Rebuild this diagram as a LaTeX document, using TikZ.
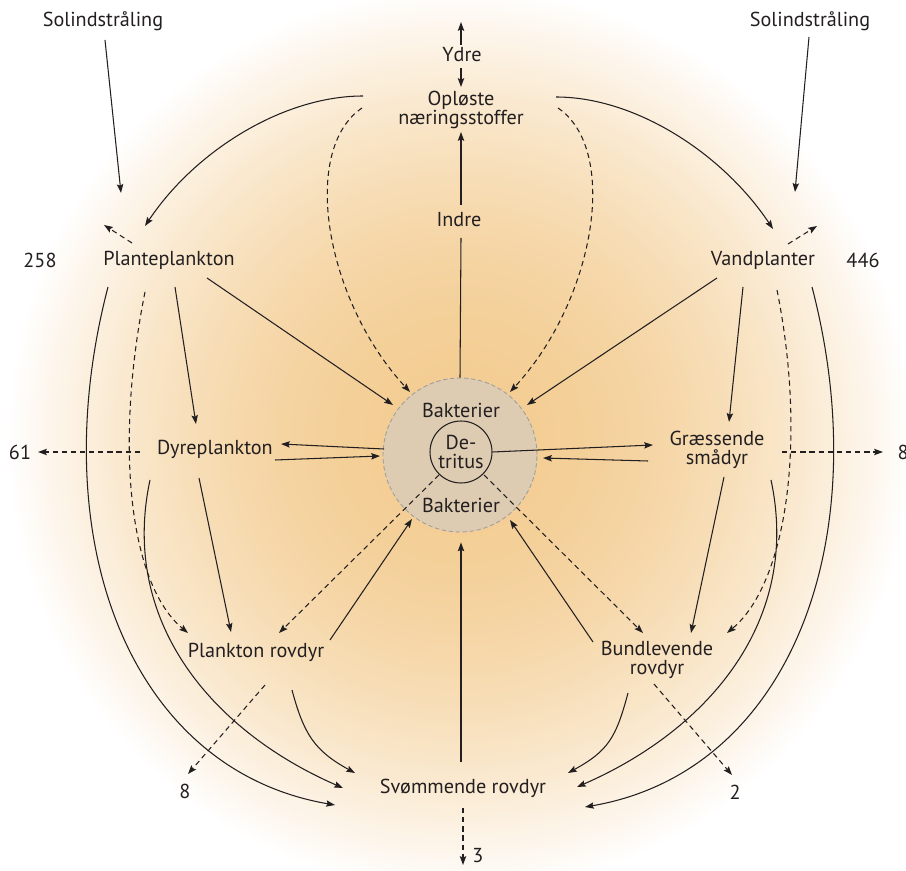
\documentclass[tikz,border=0pt]{standalone}
\usepackage{fontspec}
\setmainfont{PT Sans}
\usetikzlibrary{arrows.meta, calc, shapes}
\definecolor{glowc}{RGB}{243,204,145}
\definecolor{bakfill}{RGB}{221,204,178}
\definecolor{ink}{RGB}{35,31,32}
\tikzset{>={Stealth[length=5pt,width=3.6pt,inset=0.8pt]}}

\begin{document}
\begin{tikzpicture}[x=0.02cm, y=-0.02cm, line width=0.6pt, draw=ink,
	lbl/.style={text=ink, font=\fontsize{11.5}{10.8}\selectfont, align=center, inner sep=1pt},
	flow/.style={->},
	loss/.style={->, dash pattern=on 3pt off 2.2pt}]
			\useasboundingbox (0,0) rectangle (906,871);
			% baggrund
			\foreach \r [evaluate=\r as \f using {100*(1-(\r/455)^2)}] in {455,450,...,5}
				\fill [glowc!\f!white] (460,440) circle (\r);

			\node [circle, draw=gray!75, dash pattern=on 2.5pt off 1.5pt, line width=0.5pt, fill=bakfill, minimum size=3.08cm, inner sep=0] (bak) at (460,455) {};
			\node [lbl, circle, draw=ink, minimum size=1.24cm, inner sep=0] (det) at (461,452) {De-\\tritus};
			\node [lbl] (bakop) at (461,410) {Bakterier};
			\node [lbl] (bakned) at (461,505) {Bakterier};

			\node [lbl] (solV) at (103,21) {Solindstråling};
			\node [lbl] (solH) at (810,21) {Solindstråling};
			\node [lbl] (ydre) at (462,55) {Ydre};
			\node [lbl] (oploste) at (461,110) {Opløste\\næringsstoffer};
			\node [lbl] (indre) at (459,220) {Indre};
			\node [lbl] (plante) at (169,260) {Planteplankton};
			\node [lbl] (vand) at (763,260) {Vandplanter};
			\node [lbl] (n258) at (40,260) {258};
			\node [lbl] (n446) at (863,260) {446};
			\node [lbl] (dyre) at (215,449) {Dyreplankton};
			\node [lbl] (graes) at (717,450) {Græssende\\smådyr};
			\node [lbl] (n61) at (20,452) {61};
			\node [lbl] (n8h) at (903,452) {8};
			\node [lbl] (prov) at (256,652) {Plankton rovdyr};
			\node [lbl] (bund) at (657,660) {Bundlevende\\rovdyr};
			\node [lbl] (svom) at (463,788) {Svømmende rovdyr};
			\node [lbl] (n8v) at (185,791) {8};
			\node [lbl] (n2) at (735,792) {2};
			\node [lbl] (n3) at (478,856) {3};

			% sollys og tab
			\draw [flow] ($(solV)+(2,19)$) -- ($(plante)+(-48,-67)$);
			\draw [flow] ($(solH)+(-1,16)$) -- ($(vand)+(32,-68)$);
			\draw [loss] ($(plante)+(-37,-17)$) -- ($(plante)+(-65,-35)$);
			\draw [loss] ($(vand)+(25,-16)$) -- ($(vand)+(54,-34)$);

			\draw [flow] ($(ydre)+(-1,-10)$) -- ($(ydre)+(-1,-33)$);
			\draw [flow] ($(ydre)+(-1,13)$) -- ($(oploste)+(0,-23)$);
			\draw [flow] ($(indre)+(2,-15)$) -- ($(oploste)+(0,22)$);
			\draw (bak.north) -- ($(indre)+(2,18)$);

			\draw [flow] ($(oploste)+(-98,-14)$) .. controls +(-80,0) and +(50,-75) .. ($(plante)+(-24,-34)$);
			\draw [flow] ($(oploste)+(95,-13)$) .. controls +(80,0) and +(-50,-75) .. ($(vand)+(10,-31)$);
			\draw [loss] ($(oploste)+(-99,-2)$) .. controls +(-62,42) and +(-85,-92) .. ($(bak)+(-50,-63)$);
			\draw [loss] ($(oploste)+(97,-2)$) .. controls +(62,42) and +(85,-92) .. ($(bak)+(50,-63)$);

			% planter
			\draw [flow] ($(plante)+(38,18)$) -- ($(bak)+(-67,-50)$);
			\draw [flow] ($(vand)+(-46,18)$) -- ($(bak)+(67,-50)$);
			\draw [flow] ($(plante)+(6,27)$) -- ($(dyre)+(-19,-25)$);
			\draw [flow] ($(vand)+(-20,27)$) -- ($(graes)+(12,-28)$);
			\draw [loss] ($(plante)+(-24,32)$) .. controls +(-30,150) and +(-60,-50) .. ($(prov)+(-68,-19)$);
			\draw [loss] ($(vand)+(14,30)$) .. controls +(30,150) and +(60,-50) .. ($(bund)+(70,-27)$);
			\draw [flow] ($(plante)+(-61,27)$) .. controls +(-66,253) and +(-205,-35) .. ($(svom)+(-128,17)$);
			\draw [flow] ($(vand)+(49,27)$) .. controls +(66,253) and +(205,-35) .. ($(svom)+(122,19)$);

			% dyr
			\draw [flow] ($(dyre)+(-65,31)$) .. controls +(-30,140) and +(-133,-58) .. ($(svom)+(-120,0)$);
			\draw [flow] ($(graes)+(54,30)$) .. controls +(30,140) and +(133,-58) .. ($(svom)+(114,-1)$);
			\draw [flow] ($(dyre)+(-16,29)$) -- ($(prov)+(-25,-20)$);
			\draw [flow] ($(graes)+(7,27)$) -- ($(bund)+(34,-27)$);
			\draw [flow] ($(prov)+(36,38)$) .. controls +(12,45) and +(-40,-22) .. ($(svom)+(-108,-15)$);
			\draw [flow] ($(bund)+(-29,33)$) .. controls +(-12,45) and +(40,-22) .. ($(svom)+(105,-15)$);
			\draw [loss] ($(prov)+(9,33)$) -- ($(n8v)+(3,-17)$);
			\draw [loss] ($(bund)+(-3,24)$) -- ($(n2)+(-3,-17)$);
			\draw [loss] ($(svom)+(0,20)$) -- ($(n3)+(-15,9)$);
			\draw [loss] ($(dyre)+(-75,3)$) -- ($(n61)+(18,0)$);
			\draw [loss] ($(graes)+(65,2)$) -- ($(n8h)+(-20,0)$);

			% til og fra bakterier
			\draw [flow] ($(svom)+(-2,-26)$) -- ($(bak.south)+(1,10)$);
			\draw [flow] ($(prov)+(74,-12)$) -- ($(bak)+(-48,64)$);
			\draw [flow] ($(bund)+(-64,-18)$) -- ($(bak)+(50,65)$);
			\draw [loss] ($(det)+(-22,23)$) -- ($(prov)+(23,-19)$);
			\draw [loss] ($(det)+(23,23)$) -- ($(bund)+(-14,-27)$);
			\draw [flow] ($(bak)+(-76,-6)$) -- ($(dyre)+(66,-5)$);
			\draw [flow] ($(dyre)+(60,11)$) -- ($(bak)+(-80,1)$);
			\draw [flow] (det.east) -- ($(graes)+(-64,-5)$);
			\draw [flow] ($(graes)+(-69,11)$) -- ($(bak)+(83,3)$);
	\end{tikzpicture}
\end{document}
